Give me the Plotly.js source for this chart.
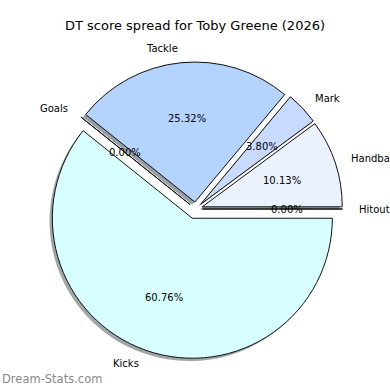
<!DOCTYPE html>
<html><head><meta charset="utf-8">
<script src="https://cdn.plot.ly/plotly-3.0.1.min.js"></script>
<style>html,body{margin:0;padding:0;background:#fff}#chart{width:390px;height:390px}</style>
</head><body><div id="chart"></div>
<script>
// ---- data ----
const categories = ['Hitout', 'Handball', 'Mark', 'Tackle', 'Goals', 'Kicks'];
const scores = [0, 8, 3, 20, 0, 48];
const chartTitle = 'DT score spread for Toby Greene (2026)';
const watermark = 'Dream-Stats.com';

// ---- style ----
const sliceColors = ['#d0e4ff', '#eaf2ff', '#c8daff', '#b4d4ff', '#e0e8ff', '#d8ffff'];
const pulls = [0.05, 0.05, 0.05, 0.05, 0.05, 0.07];
const FONT = 'DejaVu Sans, sans-serif';
const W = 390, H = 390, CX = 195.6, CY = 209, R = 140;
const SH = 2.8; // shadow offset px

const maxPull = Math.max(...pulls);
const half = R * (1 + maxPull);
function dom(cx, cy) {
  return {x: [(cx - half) / W, (cx + half) / W], y: [1 - (cy + half) / H, 1 - (cy - half) / H]};
}
function hexToRgb(h) { return [1, 3, 5].map(i => parseInt(h.substr(i, 2), 16)); }
const shadowColors = sliceColors.map(c => {
  const [r, g, b] = hexToRgb(c);
  return `rgba(${Math.round(r * 0.3)},${Math.round(g * 0.3)},${Math.round(b * 0.3)},0.5)`;
});

const common = {
  type: 'pie', labels: categories, values: scores, sort: false,
  direction: 'counterclockwise', rotation: 90, pull: pulls,
  textinfo: 'none', hoverinfo: 'skip', showlegend: false
};
const shadow = Object.assign({}, common, {
  marker: {colors: shadowColors, line: {width: 0}},
  domain: dom(CX - SH, CY + SH)
});
const main = Object.assign({}, common, {
  marker: {colors: sliceColors, line: {color: '#111', width: 1}},
  domain: dom(CX, CY)
});

// label annotations derived from the data (matplotlib-style placement)
const total = scores.reduce((a, b) => a + b, 0);
const annotations = [];
let acc = 0;
scores.forEach((v, i) => {
  const t1 = acc / total * 360; acc += v;
  const t2 = acc / total * 360;
  const mid = (t1 + t2) / 2 * Math.PI / 180;
  const c = Math.cos(mid), s = Math.sin(mid);
  const ox = CX + pulls[i] * R * c, oy = CY - pulls[i] * R * s;
  const lx = ox + 1.1 * R * c, ly = oy - 1.1 * R * s;
  const px = ox + 0.6 * R * c, py = oy - 0.6 * R * s;
  annotations.push({
    xref: 'paper', yref: 'paper', x: lx / W, y: 1 - ly / H,
    xanchor: c > 0 ? 'left' : 'right', yanchor: 'middle', showarrow: false,
    text: categories[i], font: {family: FONT, size: 10, color: '#000'}
  });
  annotations.push({
    xref: 'paper', yref: 'paper', x: px / W, y: 1 - py / H,
    xanchor: 'center', yanchor: 'middle', showarrow: false,
    text: (v / total * 100).toFixed(2) + '%', font: {family: FONT, size: 10, color: '#000'}
  });
});
annotations.push({
  xref: 'paper', yref: 'paper', x: 0, y: 1 - 379 / H, xanchor: 'left', yanchor: 'middle',
  showarrow: false, text: watermark, font: {family: FONT, size: 11.5, color: '#8a8a8a'}
});

const layout = {
  width: W, height: H, margin: {l: 0, r: 0, t: 0, b: 0},
  paper_bgcolor: '#fff', plot_bgcolor: '#fff',
  title: {text: chartTitle, x: 0.5, xanchor: 'center', y: 1 - 25 / H, yanchor: 'middle',
          font: {family: FONT, size: 13, color: '#000'}},
  annotations: annotations
};
Plotly.newPlot('chart', [shadow, main], layout, {displayModeBar: false, staticPlot: true});
</script></body></html>
